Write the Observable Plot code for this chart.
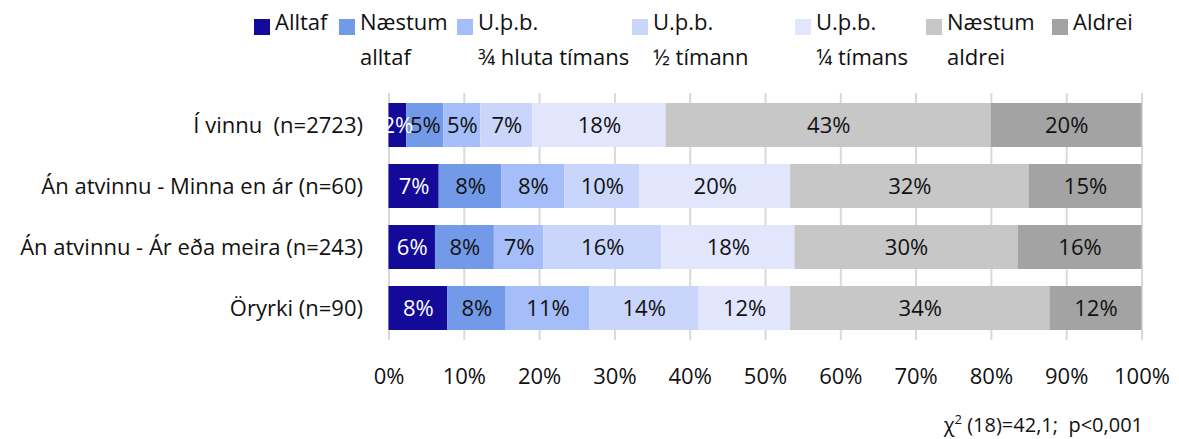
<!DOCTYPE html>
<html>
<head>
<meta charset="utf-8">
<script src="https://cdn.jsdelivr.net/npm/d3@7"></script>
<script src="https://cdn.jsdelivr.net/npm/@observablehq/plot@0.6"></script>
<style>
  body { margin: 0; background: #fff; font-family: "Open Sans", Lato, sans-serif; color: #111; }
  #legend { position: relative; width: 1179px; height: 88px; }
  .item { position: absolute; top: 0; }
  .sw { position: absolute; top: 19px; left: 0; width: 16px; height: 16px; }
  .lab { position: absolute; left: 21px; top: 4px; font-size: 22px; line-height: 35px; white-space: nowrap; }
  #caption { width: 1143px; text-align: right; font-size: 20px; margin-top: 12px; }
  svg { white-space: pre; }
</style>
</head>
<body>
<div id="legend"></div>
<div id="chart"></div>
<div id="caption">χ<sup style="font-size:13px">2</sup> (18)=42,1;&nbsp; p&lt;0,001</div>
<script>
// Categories (rows)
const groups = [
  "Í vinnu\u00a0 (n=2723)",
  "Án atvinnu - Minna en ár (n=60)",
  "Án atvinnu - Ár eða meira (n=243)",
  "Öryrki (n=90)"
];
// Response levels (series)
const levels = ["Alltaf", "Næstum alltaf", "U.þ.b. ¾ hluta tímans", "U.þ.b. ½ tímann", "U.þ.b. ¼ tímans", "Næstum aldrei", "Aldrei"];
const legendLines = [["Alltaf"], ["Næstum", "alltaf"], ["U.þ.b.", "¾ hluta tímans"], ["U.þ.b.", "½ tímann"], ["U.þ.b.", "¼ tímans"], ["Næstum", "aldrei"], ["Aldrei"]];
const colors = ["#130a99", "#739ae9", "#a5bdf8", "#c9d5fb", "#e1e6fd", "#c7c7c7", "#a3a3a3"];

// Series values (%), one value per group
const alltaf        = [2.35, 6.67, 6.17, 7.78];
const naestumAlltaf = [4.95, 8.33, 7.82, 7.78];
const thrjarFjordu  = [4.9, 8.33, 6.58, 11.11];
const halfur        = [6.9, 10.0, 15.64, 14.44];
const fjordungur    = [17.7, 20.0, 17.7, 12.22];
const naestumAldrei = [43.2, 31.67, 29.63, 34.44];
const aldrei        = [20.0, 15.0, 16.46, 12.22];
const series = [alltaf, naestumAlltaf, thrjarFjordu, halfur, fjordungur, naestumAldrei, aldrei];

const xTicks = [0, 10, 20, 30, 40, 50, 60, 70, 80, 90, 100];

const data = [];
groups.forEach((g, gi) => levels.forEach((l, li) => data.push({group: g, level: l, value: series[li][gi]})));

// Legend (HTML, above the SVG)
const legendLeft = [254, 339, 457, 632, 795, 926, 1052];
const leg = document.getElementById("legend");
levels.forEach((l, i) => {
  const it = document.createElement("div");
  it.className = "item";
  it.style.left = legendLeft[i] + "px";
  it.innerHTML = `<div class="sw" style="background:${colors[i]}"></div><div class="lab">${legendLines[i].join("<br>")}</div>`;
  leg.appendChild(it);
});

const chart = Plot.plot({
  width: 1179,
  height: 310,
  marginLeft: 388.5,
  marginRight: 37.5,
  marginTop: 5,
  marginBottom: 58,
  style: {fontFamily: "'Open Sans', Lato, sans-serif", fontSize: "22px", color: "#111", background: "#fff"},
  x: {domain: [0, 100], label: null},
  y: {domain: groups, paddingInner: 0.28, paddingOuter: 0.14, label: null},
  color: {domain: levels, range: colors},
  marks: [
    Plot.ruleX(xTicks, {stroke: "#d9d9d9", strokeWidth: 2}),
    Plot.barX(data, Plot.stackX({x: "value", y: "group", z: "level", fill: "level", order: null})),
    Plot.textX(data, Plot.stackX({
      x: "value", y: "group", z: "level", order: null,
      text: d => Math.round(d.value) + "%",
      fill: d => d.level === "Alltaf" ? "#fff" : "#111",
      fontSize: 22
    })),
    Plot.axisX({ticks: xTicks, tickFormat: d => d + "%", tickSize: 0, tickPadding: 28, label: null}),
    Plot.axisY({tickSize: 0, tickPadding: 26, label: null})
  ]
});
document.getElementById("chart").appendChild(chart);
</script>
</body>
</html>
